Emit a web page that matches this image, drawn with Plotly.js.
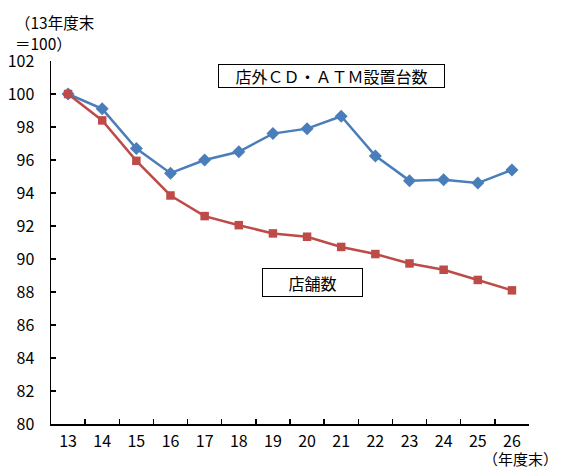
<!DOCTYPE html>
<html>
<head>
<meta charset="utf-8">
<script src="https://cdn.plot.ly/plotly-3.0.1.min.js"></script>
<style>
  html, body { margin: 0; padding: 0; background: #fff; }
  #chart { width: 563px; height: 468px; }
</style>
</head>
<body>
<div id="chart"></div>
<script>
// 年度末（平成13年度末＝100）
const years = ['13', '14', '15', '16', '17', '18', '19', '20', '21', '22', '23', '24', '25', '26'];
const atmIndex = [100.0, 99.1, 96.7, 95.2, 96.0, 96.5, 97.6, 97.9, 98.65, 96.25, 94.75, 94.8, 94.6, 95.4];
const storeIndex = [100.0, 98.4, 95.95, 93.85, 92.6, 92.05, 91.55, 91.35, 90.73, 90.3, 89.73, 89.35, 88.73, 88.1];
const yTicks = [80, 82, 84, 86, 88, 90, 92, 94, 96, 98, 100, 102];

const JP = '"Liberation Sans Narrow", "Noto Sans CJK JP", sans-serif';
const JP_TEXT = '"Noto Sans CJK JP", sans-serif';

const traces = [
  {
    x: years, y: atmIndex, type: 'scatter', mode: 'lines+markers',
    name: '店外ＣＤ・ＡＴＭ設置台数',
    line: { color: '#4A7EBB', width: 2.5 },
    marker: { symbol: 'diamond', size: 10, color: '#4A7EBB' }
  },
  {
    x: years, y: storeIndex, type: 'scatter', mode: 'lines+markers',
    name: '店舗数',
    line: { color: '#BE4B48', width: 2.5 },
    marker: { symbol: 'square', size: 8.5, color: '#BE4B48' }
  }
];

const layout = {
  width: 563, height: 468,
  margin: { l: 51, r: 34, t: 61, b: 44 },
  paper_bgcolor: '#fff', plot_bgcolor: '#fff',
  showlegend: false,
  font: { family: JP, size: 16, color: '#000' },
  xaxis: {
    type: 'category',
    range: [-0.5, 13.5],
    tickson: 'boundaries',
    ticks: 'inside', ticklen: 5, tickwidth: 1.3, tickcolor: '#000',
    showline: true, linecolor: '#000', linewidth: 1.5,
    showgrid: false, zeroline: false,
    ticklabelstandoff: 2,
    tickfont: { family: JP, size: 16, color: '#000' }
  },
  yaxis: {
    range: [80, 102],
    tickvals: yTicks,
    ticktext: yTicks.map(String),
    ticks: 'inside', ticklen: 5, tickwidth: 1.3, tickcolor: '#000',
    showline: true, linecolor: '#000', linewidth: 1.5,
    showgrid: false, zeroline: false,
    ticklabelstandoff: 12,
    tickfont: { family: JP, size: 16, color: '#000' }
  },
  annotations: [
    {
      xref: 'x', yref: 'y', x: 7.72, y: 101.12,
      text: '店外ＣＤ・ＡＴＭ設置台数', showarrow: false,
      font: { family: JP_TEXT, size: 16, color: '#000' },
      bordercolor: '#000', borderwidth: 1, borderpad: 0,
      width: 225, height: 22, bgcolor: '#fff'
    },
    {
      xref: 'x', yref: 'y', x: 7.16, y: 88.58,
      text: '店舗数', showarrow: false,
      font: { family: JP_TEXT, size: 16, color: '#000' },
      bordercolor: '#000', borderwidth: 1, borderpad: 0,
      width: 99, height: 27, bgcolor: '#fff'
    },
    {
      xref: 'paper', yref: 'paper', x: -0.079, y: 1.107,
      xanchor: 'left', yanchor: 'middle',
      text: '（13年度末', showarrow: false,
      font: { family: JP, size: 15.5, color: '#000' }
    },
    {
      xref: 'paper', yref: 'paper', x: -0.079, y: 1.05,
      xanchor: 'left', yanchor: 'middle',
      text: '＝100）', showarrow: false,
      font: { family: JP, size: 15.5, color: '#000' }
    },
    {
      xref: 'paper', yref: 'paper', x: 1.064, y: -0.094,
      xanchor: 'right', yanchor: 'middle',
      text: '（年度末）', showarrow: false,
      font: { family: JP, size: 15, color: '#000' }
    }
  ]
};

Plotly.newPlot('chart', traces, layout, { displayModeBar: false, staticPlot: true });
</script>
</body>
</html>
